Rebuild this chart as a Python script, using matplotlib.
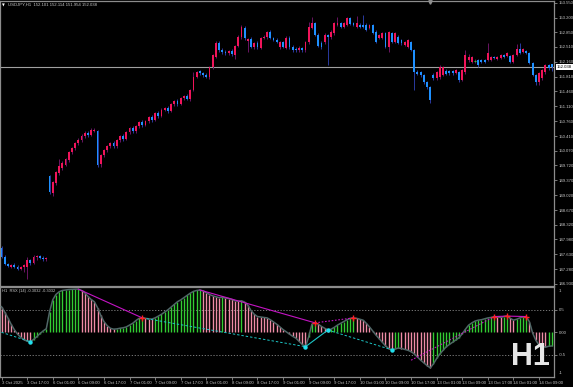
import matplotlib
matplotlib.use("Agg")
import matplotlib.pyplot as plt
from matplotlib.transforms import blended_transform_factory

W, H, DPI = 573, 387, 100
BG = "#000000"
AXIS = "#8c8c8c"
TXT = "#c8c8c8"
UP = "#f0145a"
DOWN = "#1e90ff"
UP_WICK = "#6b1463"
DOWN_WICK = "#2a3aa0"
GREEN = "#33cc33"
PINK = "#ee8ca6"
MAGENTA = "#c414c4"
CYAN = "#1cc6c6"
SMALL = "Liberation Sans"
FS = 3.1

plt.rcParams["font.family"] = [SMALL, "DejaVu Sans"]

# USDJPY H1, 3 Oct 2025 09:00 -> 14 Oct 2025 13:00 (173 bougies)
opens = [
    147.78, 147.57, 147.40, 147.34, 147.38, 147.34, 147.29, 147.33, 147.34, 147.49,
    147.42, 147.56, 147.58, 147.55, 147.51, 149.47, 149.07, 149.31, 149.54, 149.67,
    149.73, 149.85, 150.03, 150.13, 150.25, 150.32, 150.41, 150.48, 150.44, 150.53,
    150.52, 149.75, 149.96, 150.08, 150.17, 150.25, 150.17, 150.32, 150.41, 150.34,
    150.51, 150.60, 150.53, 150.65, 150.74, 150.67, 150.77, 150.86, 150.79, 150.95,
    150.88, 151.03, 151.07, 151.00, 151.17, 151.24, 151.17, 151.31, 151.35, 151.28,
    151.50, 151.80, 151.94, 151.89, 151.86, 151.80, 152.04, 152.28, 152.60, 152.44,
    152.39, 152.36, 152.41, 152.32, 152.53, 152.74, 152.96, 152.66, 152.70, 152.51,
    152.60, 152.49, 152.72, 152.74, 152.86, 152.72, 152.67, 152.51, 152.62, 152.48,
    152.72, 152.51, 152.46, 152.43, 152.48, 152.44, 152.62, 152.96, 153.07, 152.79,
    152.60, 152.62, 152.79, 152.74, 152.84, 153.03, 153.07, 152.98, 153.03, 153.19,
    153.07, 152.98, 153.03, 153.03, 153.03, 152.95, 153.03, 152.86, 152.72, 152.72,
    152.84, 152.51, 152.84, 152.63, 152.74, 152.67, 152.55, 152.51, 152.63, 152.44,
    151.92, 151.92, 151.85, 151.68, 151.57, 151.85, 151.78, 151.80, 151.85, 151.94,
    151.94, 151.94, 151.90, 151.92, 151.73, 151.92, 152.20, 152.15, 152.18, 152.20,
    152.20, 152.20, 152.20, 152.20, 152.27, 152.23, 152.25, 152.32, 152.30, 152.30,
    152.15, 152.32, 152.46, 152.39, 152.41, 152.37, 152.13, 151.85, 151.68, 151.78,
    151.92, 152.08, 152.101,
]
highs = [
    147.82, 147.60, 147.43, 147.41, 147.42, 147.37, 147.36, 147.41, 147.56, 147.52,
    147.61, 147.60, 147.61, 147.58, 147.57, 149.50, 149.36, 149.60, 149.87, 149.82,
    149.90, 150.07, 150.16, 150.28, 150.36, 150.45, 150.52, 150.52, 150.60, 150.60,
    150.56, 149.99, 150.11, 150.20, 150.28, 150.29, 150.35, 150.44, 150.45, 150.54,
    150.63, 150.64, 150.68, 150.77, 150.78, 150.80, 150.89, 150.90, 150.98, 150.99,
    151.06, 151.10, 151.11, 151.20, 151.27, 151.28, 151.34, 151.38, 151.39, 151.52,
    151.92, 151.95, 151.97, 151.92, 151.89, 152.07, 152.35, 152.66, 152.64, 152.48,
    152.43, 152.44, 152.45, 152.56, 152.78, 153.02, 153.00, 152.73, 152.74, 152.63,
    152.64, 152.75, 152.78, 152.89, 152.90, 152.75, 152.71, 152.66, 152.66, 152.76,
    152.76, 152.55, 152.50, 152.52, 152.51, 152.65, 153.09, 153.21, 153.10, 152.83,
    152.64, 152.83, 152.82, 152.90, 153.10, 153.21, 153.10, 153.10, 153.22, 153.22,
    153.10, 153.24, 153.08, 153.26, 153.07, 153.06, 153.06, 152.90, 152.82, 152.87,
    152.87, 152.89, 152.87, 152.86, 152.80, 152.70, 152.66, 152.70, 152.66, 152.46,
    151.97, 151.95, 151.88, 151.71, 151.60, 151.90, 151.95, 152.08, 152.07, 151.98,
    151.97, 151.97, 152.00, 151.95, 152.00, 152.44, 152.35, 152.30, 152.22, 152.23,
    152.23, 152.23, 152.60, 152.30, 152.30, 152.30, 152.35, 152.35, 152.40, 152.33,
    152.35, 152.58, 152.61, 152.49, 152.44, 152.40, 152.16, 151.88, 151.93, 152.00,
    152.11, 152.11, 152.114,
]
lows = [
    147.55, 147.37, 147.32, 147.30, 147.31, 147.26, 147.25, 147.22, 147.05, 147.38,
    147.39, 147.50, 147.52, 147.48, 147.46, 149.05, 149.00, 149.27, 149.50, 149.62,
    149.70, 149.80, 149.99, 150.09, 150.20, 150.28, 150.37, 150.40, 150.41, 150.50,
    149.68, 149.68, 149.92, 150.04, 150.13, 150.14, 150.14, 150.28, 150.30, 150.31,
    150.47, 150.49, 150.49, 150.61, 150.63, 150.64, 150.73, 150.75, 150.76, 150.84,
    150.85, 150.99, 150.96, 150.97, 151.13, 151.13, 151.14, 151.27, 151.25, 151.24,
    151.46, 151.77, 151.86, 151.81, 151.77, 151.76, 152.00, 152.24, 152.40, 152.35,
    152.32, 152.33, 152.30, 152.22, 152.50, 152.70, 152.68, 152.40, 152.48, 152.47,
    152.47, 152.45, 152.69, 152.70, 152.69, 152.64, 152.59, 152.47, 152.48, 152.45,
    152.47, 152.40, 152.40, 152.40, 152.40, 152.40, 152.58, 152.92, 152.76, 152.50,
    152.47, 152.58, 152.08, 152.70, 152.80, 153.00, 152.95, 152.95, 153.00, 153.02,
    153.00, 152.95, 152.95, 152.95, 152.88, 152.92, 152.81, 152.59, 152.69, 152.70,
    152.48, 152.39, 152.60, 152.60, 152.57, 152.56, 152.52, 152.48, 152.41, 151.50,
    151.84, 151.80, 151.64, 151.53, 151.19, 151.73, 151.74, 151.76, 151.82, 151.84,
    151.86, 151.86, 151.87, 151.68, 151.70, 151.88, 152.15, 152.12, 152.14, 152.04,
    152.12, 152.12, 152.17, 152.17, 152.22, 152.20, 152.22, 152.24, 152.27, 152.12,
    152.12, 152.29, 152.34, 152.36, 152.34, 152.10, 151.82, 151.62, 151.62, 151.74,
    151.88, 151.97, 151.954,
]
closes = [
    147.57, 147.40, 147.36, 147.38, 147.34, 147.29, 147.33, 147.38, 147.49, 147.42,
    147.57, 147.58, 147.55, 147.52, 147.53, 149.10, 149.33, 149.57, 149.71, 149.78,
    149.87, 150.04, 150.13, 150.25, 150.32, 150.41, 150.48, 150.44, 150.55, 150.56,
    149.73, 149.96, 150.08, 150.17, 150.25, 150.17, 150.32, 150.41, 150.34, 150.51,
    150.60, 150.53, 150.65, 150.74, 150.67, 150.77, 150.86, 150.79, 150.95, 150.88,
    151.03, 151.07, 151.00, 151.17, 151.24, 151.17, 151.31, 151.35, 151.28, 151.50,
    151.80, 151.92, 151.89, 151.84, 151.80, 152.04, 152.32, 152.60, 152.44, 152.39,
    152.36, 152.41, 152.34, 152.53, 152.74, 152.98, 152.72, 152.70, 152.51, 152.60,
    152.51, 152.72, 152.74, 152.86, 152.72, 152.67, 152.62, 152.62, 152.51, 152.72,
    152.51, 152.44, 152.43, 152.48, 152.44, 152.62, 152.98, 153.07, 152.79, 152.53,
    152.51, 152.79, 152.74, 152.86, 153.07, 153.07, 152.98, 153.07, 153.19, 153.05,
    153.03, 153.07, 152.98, 152.98, 152.91, 153.03, 152.84, 152.62, 152.79, 152.84,
    152.51, 152.86, 152.63, 152.84, 152.60, 152.60, 152.63, 152.67, 152.44, 151.92,
    151.87, 151.85, 151.68, 151.57, 151.26, 151.78, 151.92, 152.04, 152.04, 151.87,
    151.90, 151.90, 151.97, 151.73, 151.97, 152.32, 152.27, 152.27, 152.18, 152.08,
    152.15, 152.15, 152.37, 152.27, 152.25, 152.27, 152.32, 152.27, 152.37, 152.15,
    152.32, 152.46, 152.37, 152.46, 152.37, 152.13, 151.85, 151.68, 151.90, 151.97,
    152.08, 152.01, 152.038,
]
last_price = 152.038

# RSX (14) normalisé -1..1
rsx = [
    0.57, 0.45, 0.32, 0.18, 0.06, -0.04, -0.11, -0.16, -0.20, -0.21,
    -0.16, -0.10, -0.03, 0.03, 0.08, 0.45, 0.72, 0.84, 0.90, 0.93,
    0.94, 0.95, 0.955, 0.958, 0.96, 0.93, 0.88, 0.80, 0.73, 0.68,
    0.55, 0.38, 0.24, 0.15, 0.09, 0.07, 0.075, 0.09, 0.10, 0.12,
    0.16, 0.20, 0.26, 0.31, 0.32, 0.31, 0.30, 0.295, 0.32, 0.36,
    0.40, 0.45, 0.50, 0.56, 0.62, 0.68, 0.72, 0.77, 0.82, 0.87,
    0.91, 0.93, 0.94, 0.92, 0.88, 0.84, 0.81, 0.79, 0.77, 0.78,
    0.76, 0.75, 0.73, 0.70, 0.69, 0.70, 0.67, 0.60, 0.48, 0.40,
    0.35, 0.34, 0.33, 0.32, 0.28, 0.23, 0.18, 0.12, 0.06, 0.01,
    -0.04, -0.09, -0.13, -0.20, -0.27, -0.32, -0.10, 0.18, 0.21, 0.18,
    0.13, 0.09, 0.05, 0.07, 0.11, 0.16, 0.20, 0.24, 0.28, 0.31,
    0.32, 0.31, 0.29, 0.27, 0.20, 0.12, 0.03, -0.06, -0.14, -0.22,
    -0.30, -0.36, -0.39, -0.37, -0.35, -0.36, -0.38, -0.40, -0.43, -0.48,
    -0.55, -0.62, -0.68, -0.74, -0.79, -0.70, -0.58, -0.48, -0.40, -0.32,
    -0.27, -0.22, -0.17, -0.12, -0.03, 0.07, 0.16, 0.21, 0.25, 0.27,
    0.28, 0.30, 0.32, 0.33, 0.35, 0.34, 0.33, 0.35, 0.36, 0.31,
    0.27, 0.29, 0.32, 0.34, 0.35, 0.23, -0.02, -0.18, -0.28, -0.31,
    -0.33, -0.31, -0.3032,
]

# sommets / creux marqués par l'indicateur
peak_idx = [44, 98, 110, 154, 158, 164]
trough_idx = [9, 95, 102, 122]

# lignes de divergence (x en barres, y en valeur RSX)
mag_solid = [([24, 44], [0.96, 0.32]), ([62, 98], [0.94, 0.21]),
             ([154, 158, 164], [0.35, 0.36, 0.35])]
mag_dotted = [([98, 110], [0.21, 0.32]), ([128, 154], [-0.62, 0.35])]
cyan_dashed = [([0, 9], [0.0, -0.21]), ([44, 95], [0.32, -0.32]),
               ([102, 122], [0.05, -0.39])]
cyan_solid = [([95, 102], [-0.32, 0.05])]

price_ticks = [153.550, 153.200, 152.850, 152.510, 152.160, 151.810, 151.460,
               151.110, 150.760, 150.410, 150.070, 149.720, 149.370, 149.020,
               148.670, 148.320, 147.980, 147.630, 147.280, 146.930]
time_labels = ["3 Oct 2025", "3 Oct 17:00", "6 Oct 01:00", "6 Oct 09:00",
               "6 Oct 17:00", "7 Oct 01:00", "7 Oct 09:00", "7 Oct 17:00",
               "8 Oct 01:00", "8 Oct 09:00", "8 Oct 17:00", "9 Oct 01:00",
               "9 Oct 09:00", "9 Oct 17:00", "10 Oct 01:00", "10 Oct 09:00",
               "10 Oct 17:00", "13 Oct 01:00", "13 Oct 09:00", "13 Oct 17:00",
               "14 Oct 01:00", "14 Oct 09:00"]
time_label_idx = [8 * k for k in range(len(time_labels))]


def px_rect(x0, y0, x1, y1):
    return [x0 / W, 1 - y1 / H, (x1 - x0) / W, (y1 - y0) / H]


fig = plt.figure(figsize=(W / DPI, H / DPI), dpi=DPI, facecolor=BG)
ax = fig.add_axes(px_rect(0, 1, 554, 286))
ax2 = fig.add_axes(px_rect(0, 287.3, 554, 377.3))

for a in (ax, ax2):
    a.set_facecolor(BG)
    for s in a.spines.values():
        s.set_color(AXIS)
        s.set_linewidth(0.9)
    a.yaxis.tick_right()
    a.tick_params(axis="y", colors=AXIS, length=2, width=0.6, pad=1.2,
                  labelsize=FS, labelcolor=TXT)
    a.set_xlim(-0.47, 172.66)

n = len(closes)
xs = list(range(n))

# ---- Bougies ----
wick_cols = [UP_WICK if c >= o else DOWN_WICK for o, c in zip(opens, closes)]
ax.vlines(xs, lows, highs, colors=wick_cols, linewidth=0.7, zorder=2)
body_cols = [UP if c > o else DOWN for o, c in zip(opens, closes)]
heights = [c - o for o, c in zip(opens, closes)]
ax.bar(xs, heights, bottom=opens, width=0.62, color=body_cols,
       linewidth=0, zorder=3)
for i in xs:
    if opens[i] == closes[i]:
        ax.hlines(closes[i], i - 0.35, i + 0.35, color=GREEN, linewidth=0.8, zorder=3)

ax.axhline(last_price, color="#a0a0a0", linewidth=0.8, zorder=1)
ax.set_ylim(146.882, 153.590)
ax.set_yticks(price_ticks)
ax.set_yticklabels([f"{t:.3f}" for t in price_ticks])
ax.set_xticks([])

trans = blended_transform_factory(ax.transAxes, ax.transData)
ax.text(1.005, last_price, f"{last_price:.3f}", transform=trans, fontsize=FS,
        color="black", va="center", ha="left",
        bbox=dict(boxstyle="square,pad=0.2", facecolor="white", edgecolor="none"))
ax.text(0.004, 0.992, "\u25bc", transform=ax.transAxes, fontsize=2.6, color="white",
        va="top", ha="left", family="DejaVu Sans")
ax.text(0.014, 0.993, "USDJPY,H1  152.101 152.114 151.954 152.038",
        transform=ax.transAxes, fontsize=FS, color=TXT, va="top", ha="left")
ax.plot([133.9], [153.575], marker="v", color="#909090", markersize=2.5,
        clip_on=False, zorder=5)

# ---- Indicateur RSX ----
hist_cols = [GREEN if i > 0 and rsx[i] > rsx[i - 1] else PINK for i in xs]
ax2.vlines(xs, 0, rsx, colors=hist_cols, linewidth=1.0, zorder=2)
ax2.plot(xs, rsx, color="#4f6666", linewidth=1.1, zorder=3)
for lvl in (0.5, -0.5):
    ax2.axhline(lvl, color="#8a8a8a", linewidth=0.6, linestyle=(0, (1.5, 2)), zorder=1)

for sx, sy in mag_solid:
    ax2.plot(sx, sy, color=MAGENTA, linewidth=0.8, zorder=4)
for sx, sy in mag_dotted:
    ax2.plot(sx, sy, color=MAGENTA, linewidth=0.8, linestyle=(0, (1.5, 1.5)), zorder=4)
for sx, sy in cyan_dashed:
    ax2.plot(sx, sy, color=CYAN, linewidth=0.7, linestyle=(0, (2.5, 2)), zorder=4)
for sx, sy in cyan_solid:
    ax2.plot(sx, sy, color=CYAN, linewidth=0.8, zorder=4)
ax2.plot(peak_idx, [rsx[i] for i in peak_idx], linestyle="none", marker="+",
         color="#ff2020", markersize=4, markeredgewidth=1.0, zorder=5)
ax2.plot(trough_idx, [rsx[i] for i in trough_idx], linestyle="none", marker="o",
         color="#22e0ee", markersize=2.2, zorder=5)

ax2.set_ylim(-1, 1)
ax2.set_yticks([0.5, 0.0, -0.5])
ax2.set_yticklabels(["0.5", "0.00", "-0.5"])
trans2 = blended_transform_factory(ax2.transAxes, ax2.transData)
ax2.text(1.009, 0.96, "1", transform=trans2, fontsize=FS, color=TXT, va="top")
ax2.text(1.009, -0.96, "-1", transform=trans2, fontsize=FS, color=TXT, va="bottom")
ax2.text(0.004, 0.965, "H1  RSX (14) -0.3032 -0.3032", transform=trans2,
         fontsize=2.9, color=TXT, va="top", ha="left")

ax2.set_xticks(time_label_idx)
ax2.set_xticklabels(time_labels, ha="left")
ax2.tick_params(axis="x", colors=AXIS, length=2, width=0.6, pad=0.8,
                labelsize=FS, labelcolor=TXT)

fig.text(530 / W, 1 - 365 / H, "H1", fontsize=22, fontweight="bold",
         family="Liberation Sans", color="#e6e6e6", ha="center", va="baseline")

fig.savefig("out.png", dpi=DPI, facecolor=BG)
